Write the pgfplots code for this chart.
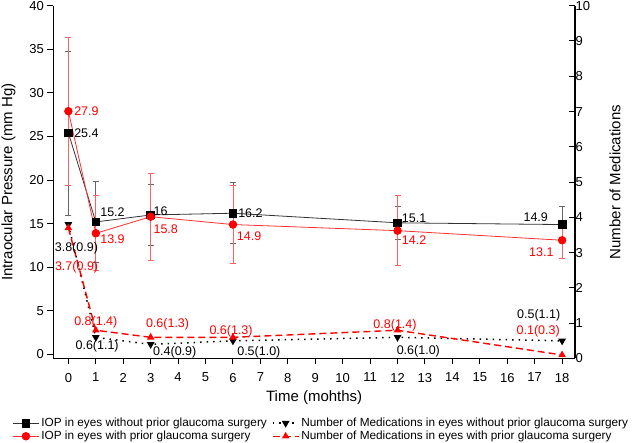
\documentclass[border=0pt]{standalone}
\usepackage{pgfplots}
\pgfplotsset{compat=1.18}
\usepackage{fontspec}
\setmainfont{Liberation Sans}
\definecolor{iopblack}{HTML}{333333}
\definecolor{errgray}{HTML}{666666}
\definecolor{iopred}{HTML}{FF3030}
\definecolor{errred}{HTML}{FF6060}
\tikzset{ann/.style={font=\fontsize{12.5}{15}\selectfont, inner sep=0pt}}
\begin{document}
\begin{tikzpicture}
\path[use as bounding box] (-53.3pt,-84.5pt) rectangle (578.7pt,358.5pt);
\pgfplotsset{
  base/.style={
    scale only axis, width=521.7pt, height=352.8pt,
    xmin=-0.55, xmax=18.47,
    clip=false,
    axis line style={line width=1.2pt},
    x axis line style={-}, y axis line style={-},
    tick style={line width=1pt, black},
    major tick length=6pt,
    tick label style={font=\fontsize{13}{15}\selectfont},
    label style={font=\fontsize{15}{18}\selectfont},
    /pgf/number format/assume math mode=true,
  },
}
\begin{axis}[base,
  ymin=-0.46, ymax=40,
  axis x line*=bottom, axis y line*=left,
  xtick={0,1,...,18}, ytick={0,5,...,40},
  tick align=outside,
  xticklabel style={yshift=-5pt},
  xlabel={Time (mohths)}, ylabel={Intraocular Pressure (mm Hg)},
  xlabel style={at={(axis description cs:0.5,-0.112)}, anchor=center},
  ylabel style={at={(axis description cs:-0.0859,0.5)}, anchor=center},
  legend style={at={(axis description cs:0,0)}, anchor=north west, xshift=-44pt, yshift=-56pt,
    draw=none, fill=none, font=\fontsize{11.8}{14}\selectfont,
    nodes={inner xsep=2pt, inner ysep=1.5pt},
    /tikz/every even column/.append style={column sep=3pt}},
  legend columns=2, legend cell align=left,
  legend image code/.code={\draw[mark repeat=2,mark phase=2,#1] plot coordinates {(0pt,0pt) (13pt,0pt) (26pt,0pt)};},
]
% IOP without prior surgery
\addplot[iopblack, line width=0.8pt, mark=square*, mark size=3.8pt, mark options={black, fill=black},
  error bars/.cd, y dir=both, y explicit,
  error bar style={errgray, line width=0.8pt},
  error mark options={rotate=90, errgray, mark size=3pt, line width=0.8pt}]
  table[x=t, y=v, y error=sd] {
t v sd
0 25.4 9.4
1 15.2 4.6
3 16.0 3.5
6 16.2 3.5
12 15.1 1.9
18 14.9 2.1
};
\addlegendentry{IOP in eyes without prior glaucoma surgery}
\addlegendimage{black, line width=1.5pt, dash pattern=on 1.5pt off 5pt, mark=triangle*, mark size=3pt, mark options={solid, rotate=180, black}}
\addlegendentry{Number of Medications in eyes without prior glaucoma surgery}
% IOP with prior surgery
\addplot[iopred, line width=0.8pt, mark=*, mark size=3.8pt, mark options={red, fill=red},
  error bars/.cd, y dir=both, y explicit,
  error bar style={errred, line width=0.8pt},
  error mark options={rotate=90, errred, mark size=3pt, line width=0.8pt}]
  table[x=t, y=v, y error=sd] {
t v sd
0 27.9 8.5
1 13.9 4.3
3 15.8 5.0
6 14.9 4.5
12 14.2 4.0
18 13.1 2.1
};
\addlegendentry{IOP in eyes with prior glaucoma surgery}
\addlegendimage{red, line width=1.4pt, dash pattern=on 7pt off 4pt, mark=triangle*, mark size=3pt, mark options={solid, red}}
\addlegendentry{Number of Medications in eyes with prior glaucoma surgery}
% value labels
\node[ann, anchor=west, xshift=5.7pt] at (axis cs:0,25.4) {25.4};
\node[ann, anchor=west, xshift=5.7pt, red] at (axis cs:0,27.9) {27.9};
\node[ann, anchor=west, xshift=4.3pt, yshift=9.3pt] at (axis cs:1,15.2) {15.2};
\node[ann, anchor=west, xshift=4.3pt, yshift=-5.7pt, red] at (axis cs:1,13.9) {13.9};
\node[ann, anchor=west, xshift=2.7pt, yshift=4pt] at (axis cs:3,16) {16};
\node[ann, anchor=west, xshift=2.7pt, yshift=-12.3pt, red] at (axis cs:3,15.8) {15.8};
\node[ann, anchor=west, xshift=5.1pt] at (axis cs:6,16.2) {16.2};
\node[ann, anchor=west, xshift=3.8pt, yshift=-12pt, red] at (axis cs:6,14.9) {14.9};
\node[ann, anchor=west, xshift=4.2pt, yshift=4.5pt] at (axis cs:12,15.1) {15.1};
\node[ann, anchor=west, xshift=4.2pt, yshift=-9.3pt, red] at (axis cs:12,14.2) {14.2};
\node[ann, anchor=east, xshift=-14pt, yshift=7pt] at (axis cs:18,14.9) {14.9};
\node[ann, anchor=east, xshift=-8.4pt, yshift=-12.4pt, red] at (axis cs:18,13.1) {13.1};
\end{axis}
\begin{axis}[base,
  ymin=0, ymax=10,
  axis y line*=right, axis x line=none,
  ytick={0,1,...,10},
  tick align=inside,
  ylabel={Number of Medications},
  ylabel style={at={(axis description cs:1.0767,0.5)}, anchor=center},
  yticklabel style={xshift=-3pt},
]
\addplot[black, line width=1.5pt, dash pattern=on 1.5pt off 5pt, mark=triangle*, mark size=3pt, mark options={solid, rotate=180, black}]
  coordinates {(0,3.8) (1,0.6) (3,0.4) (6,0.5) (12,0.6) (18,0.5)};
\addplot[red, line width=1.4pt, dash pattern=on 7pt off 4pt, mark=triangle*, mark size=3pt, mark options={solid, red}]
  coordinates {(0,3.7) (1,0.8) (3,0.6) (6,0.6) (12,0.8) (18,0.1)};
\node[ann, xshift=8pt, yshift=-23.7pt] at (axis cs:0,3.8) {3.8(0.9)};
\node[ann, xshift=8.2pt, yshift=-39.2pt, red] at (axis cs:0,3.7) {3.7(0.9)};
\node[ann, xshift=0pt, yshift=7.6pt, red] at (axis cs:1,0.8) {0.8(1.4)};
\node[ann, xshift=1.3pt, yshift=-9.3pt] at (axis cs:1,0.6) {0.6(1.1)};
\node[ann, xshift=16.9pt, yshift=13.4pt, red] at (axis cs:3,0.6) {0.6(1.3)};
\node[ann, xshift=24.1pt, yshift=-7.9pt] at (axis cs:3,0.4) {0.4(0.9)};
\node[ann, xshift=-1.9pt, yshift=5.7pt, red] at (axis cs:6,0.6) {0.6(1.3)};
\node[ann, xshift=25.9pt, yshift=-11.4pt] at (axis cs:6,0.5) {0.5(1.0)};
\node[ann, xshift=-2.5pt, yshift=5.3pt, red] at (axis cs:12,0.8) {0.8(1.4)};
\node[ann, xshift=20.8pt, yshift=-14.3pt] at (axis cs:12,0.6) {0.6(1.0)};
\node[ann, xshift=-23.4pt, yshift=25.2pt] at (axis cs:18,0.5) {0.5(1.1)};
\node[ann, xshift=-23.9pt, yshift=23.3pt, red] at (axis cs:18,0.1) {0.1(0.3)};
\end{axis}
\end{tikzpicture}
\end{document}
